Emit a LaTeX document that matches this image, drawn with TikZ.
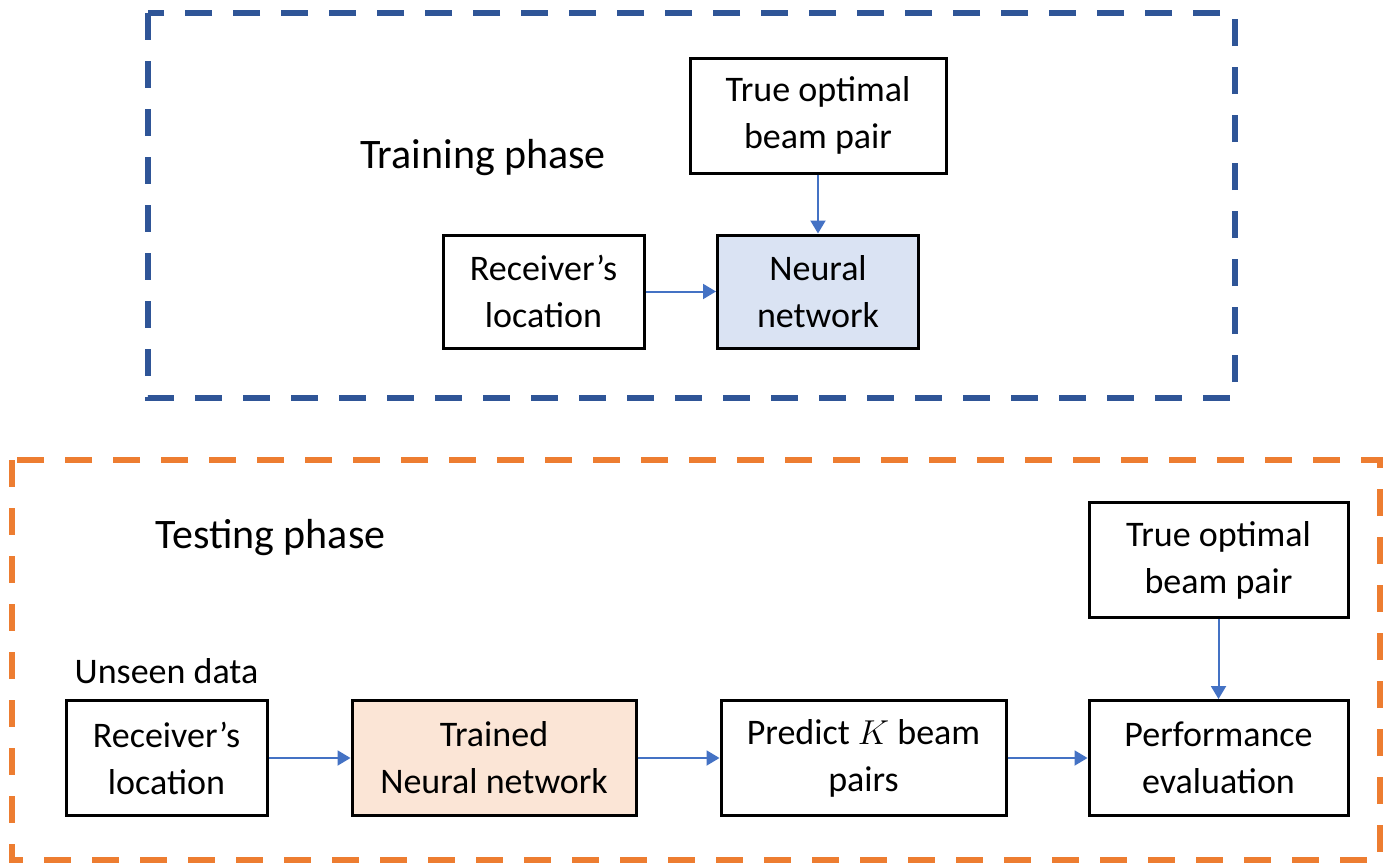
\documentclass[tikz,border=0pt]{standalone}
\usepackage{fontspec}
\setmainfont{Carlito}
\usetikzlibrary{arrows.meta}
\definecolor{frameblue}{HTML}{2F5597}
\definecolor{frameorange}{HTML}{ED7D31}
\definecolor{arrowblue}{HTML}{4472C4}
\definecolor{nnblue}{HTML}{DAE3F3}
\definecolor{nnpeach}{HTML}{FBE5D6}
\tikzset{
  boxnode/.style={draw=black, line width=1.5pt, align=center, inner sep=0pt,
    minimum height=57.5pt, font=\fontsize{18pt}{23.5pt}\selectfont},
  phaselabel/.style={anchor=base, inner sep=0pt, font=\fontsize{21pt}{25pt}\selectfont},
  plainlabel/.style={anchor=base, inner sep=0pt, font=\fontsize{18pt}{23.5pt}\selectfont},
  flow/.style={draw=arrowblue, line width=1pt, -{Triangle[length=6.5pt, width=7.5pt]}},
  frame/.style={line width=3.25pt, dash pattern=on 13.5pt off 10.5pt},
}
\begin{document}
\begin{tikzpicture}[x=0.5pt, y=-0.5pt]
\useasboundingbox (0,0) rectangle (1384,863);
% frames
\draw[frame, draw=frameblue] (148,13) rectangle (1235,398);
\draw[frame, draw=frameorange] (12,460) rectangle (1380,860);
% labels
\node[phaselabel] (trainlbl) at (483,168) {Training phase};
\node[phaselabel] (testlbl) at (270.5,548) {Testing phase};
\node[plainlabel] (unseen) at (166.5,683) {Unseen data};
% training nodes
\node[boxnode, minimum width=100.5pt, minimum height=56.5pt] (trrx) at (543.5,291.5) {Receiver’s\\location};
\node[boxnode, fill=nnblue, minimum width=100.5pt, minimum height=56.5pt] (trnn) at (818,291.5) {Neural\\network};
\node[boxnode, minimum width=128pt] (trtrue) at (818,115.5) {True optimal\\beam pair};
% testing nodes
\node[boxnode, minimum width=100.5pt] (terx) at (166.5,758) {Receiver’s\\location};
\node[boxnode, fill=nnpeach, minimum width=142pt] (tenn) at (494,758) {Trained\\Neural network};
\node[boxnode, minimum width=142.5pt] (tepred) at (863.5,758) {Predict $K$ beam\\pairs};
\node[boxnode, minimum width=129.5pt] (teperf) at (1218.5,758) {Performance\\evaluation};
\node[boxnode, minimum width=129.5pt] (tetrue) at (1218.5,560) {True optimal\\beam pair};
% connectors
\draw[flow] (trrx) -- (trnn);
\draw[flow] (trtrue) -- (trnn);
\draw[flow] (terx) -- (tenn);
\draw[flow] (tenn) -- (tepred);
\draw[flow] (tepred) -- (teperf);
\draw[flow] (tetrue) -- (teperf);
\end{tikzpicture}
\end{document}
